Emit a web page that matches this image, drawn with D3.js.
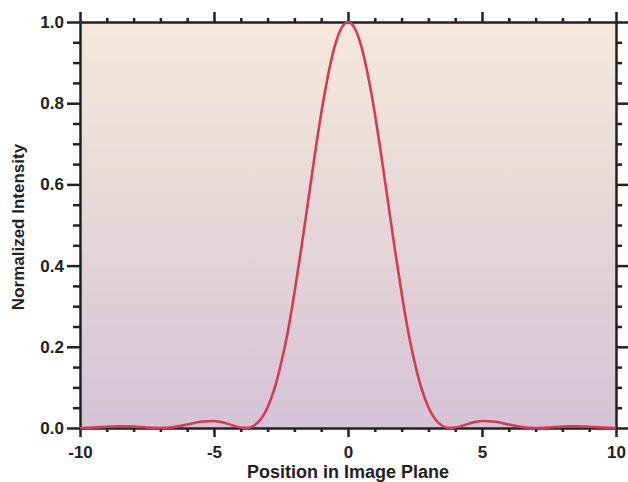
<!DOCTYPE html>
<html>
<head>
<meta charset="utf-8">
<script src="https://cdn.jsdelivr.net/npm/d3@7"></script>
<style>
  body { margin: 0; background: #fff; }
  svg { display: block; font-family: "Liberation Sans", Arial, sans-serif; font-weight: bold; }
</style>
</head>
<body>
<div id="chart"></div>
<script>
// positions
const positions = [-10, -9.5, -9, -8.5, -8, -7.5, -7, -6.5, -6, -5.5, -5, -4.5, -4, -3.75, -3.5, -3.25, -3, -2.75, -2.5, -2.25, -2, -1.75, -1.5, -1.25, -1, -0.75, -0.5, -0.25,
  0, 0.25, 0.5, 0.75, 1, 1.25, 1.5, 1.75, 2, 2.25, 2.5, 2.75, 3, 3.25, 3.5, 3.75, 4, 4.5, 5, 5.5, 6, 6.5, 7, 7.5, 8, 8.5, 9, 9.5, 10];
// intensité normalisée
const intensite = [0.0001, 0.0012, 0.0030, 0.0041, 0.0034, 0.0013, 0.0000, 0.0022, 0.0085, 0.0154, 0.0172, 0.0106, 0.0011, 0.0003, 0.0062, 0.0220, 0.0511, 0.0955, 0.1582, 0.2357, 0.3326, 0.4395, 0.5534, 0.6675, 0.7746, 0.8671, 0.9394, 0.9846,
  1.0, 0.9846, 0.9394, 0.8671, 0.7746, 0.6675, 0.5534, 0.4395, 0.3326, 0.2357, 0.1582, 0.0955, 0.0511, 0.0220, 0.0062, 0.0003, 0.0011, 0.0106, 0.0172, 0.0154, 0.0085, 0.0022, 0.0000, 0.0013, 0.0034, 0.0041, 0.0030, 0.0012, 0.0001];

const xMajeurs = [-10, -5, 0, 5, 10];
const yMajeurs = [0.0, 0.2, 0.4, 0.6, 0.8, 1.0];

const W = 628, H = 482;
const margin = {top: 22, right: 12, bottom: 54, left: 80};
const width = W - margin.left - margin.right;
const height = H - margin.top - margin.bottom;
const couleurAxe = '#222';

const data = positions.map((x, i) => ({x: x, y: intensite[i]}));

const svg = d3.select('#chart').append('svg')
  .attr('width', W)
  .attr('height', H);

const defs = svg.append('defs');
const grad = defs.append('linearGradient')
  .attr('id', 'fond')
  .attr('x1', 0).attr('y1', 0).attr('x2', 0).attr('y2', 1);
grad.append('stop').attr('offset', '0%').attr('stop-color', '#f4e9da');
grad.append('stop').attr('offset', '100%').attr('stop-color', '#d5c4d6');

const g = svg.append('g').attr('transform', `translate(${margin.left},${margin.top})`);

const echelleX = d3.scaleLinear().domain([-10, 10]).range([0, width]);
const echelleY = d3.scaleLinear().domain([0, 1]).range([height, 0]);

g.append('rect')
  .attr('width', width)
  .attr('height', height)
  .attr('fill', 'url(#fond)');

// ticks mineurs x (pas de 1) et y (pas de 0.05)
const xMineurs = d3.range(-10, 10.01, 1).filter(v => !xMajeurs.includes(v));
const yMineurs = d3.range(0, 1.001, 0.05).map(v => +v.toFixed(2)).filter(v => !yMajeurs.includes(v));

function axe(gen, majeurs, mineurs, longMaj, longMin, transform) {
  const a = g.append('g').attr('transform', transform);
  a.call(gen.tickValues(mineurs).tickSize(longMin).tickFormat(''));
  a.selectAll('.tick line').attr('stroke', couleurAxe).attr('stroke-width', 2.5);
  a.select('.domain').remove();
  const b = g.append('g').attr('transform', transform);
  b.call(gen.tickValues(majeurs).tickSize(longMaj).tickSizeOuter(0));
  b.selectAll('.tick line').attr('stroke', couleurAxe).attr('stroke-width', 2.5);
  b.select('.domain').attr('stroke', couleurAxe).attr('stroke-width', 2.5);
  return b;
}

const axeBas = axe(d3.axisBottom(echelleX), xMajeurs, xMineurs, 9, 4, `translate(0,${height})`);
axeBas.selectAll('text')
  .attr('y', 18)
  .style('font-size', '17px')
  .attr('fill', couleurAxe)
  .text(d => d < 0 ? '-' + Math.abs(d) : d);

const axeHaut = axe(d3.axisTop(echelleX), xMajeurs, xMineurs, 10, 4, 'translate(0,0)');
axeHaut.selectAll('text').remove();

const axeGauche = axe(d3.axisLeft(echelleY), yMajeurs, yMineurs, 13, 7, 'translate(0,0)');
axeGauche.selectAll('text')
  .attr('x', -16)
  .style('font-size', '17px')
  .attr('fill', couleurAxe)
  .text(d => d.toFixed(1));

const axeDroit = axe(d3.axisRight(echelleY), yMajeurs, yMineurs, 12, 6, `translate(${width},0)`);
axeDroit.selectAll('text').remove();

svg.selectAll('g[font-family]').attr('font-family', null).attr('font-size', null);

// courbe
const ligne = d3.line()
  .x(d => echelleX(d.x))
  .y(d => echelleY(d.y))
  .curve(d3.curveMonotoneX);

g.append('path')
  .datum(data)
  .attr('fill', 'none')
  .attr('stroke', '#d83a56')
  .attr('stroke-width', 2.6)
  .attr('d', ligne);

// titres
svg.append('text')
  .attr('x', margin.left + width / 2)
  .attr('y', 478)
  .attr('text-anchor', 'middle')
  .style('font-size', '18px')
  .attr('fill', couleurAxe)
  .text('Position in Image Plane');

svg.append('text')
  .attr('transform', `translate(24,${margin.top + height / 2 + 2}) rotate(-90)`)
  .attr('text-anchor', 'middle')
  .style('font-size', '17px')
  .attr('fill', couleurAxe)
  .text('Normalized Intensity');
</script>
</body>
</html>
